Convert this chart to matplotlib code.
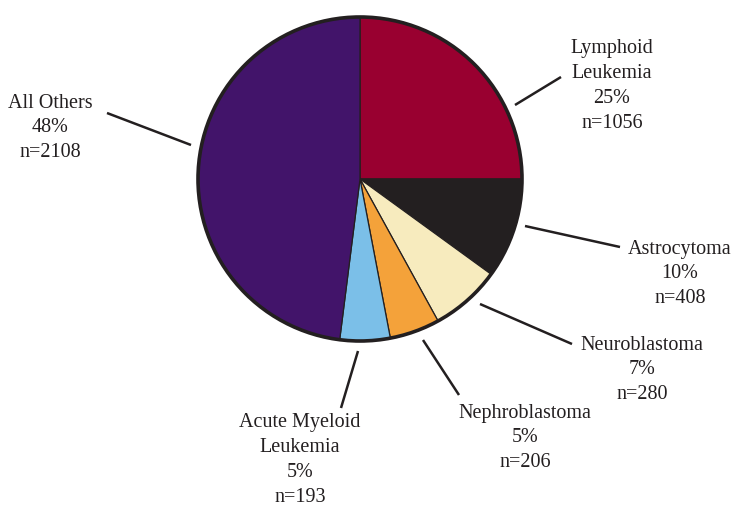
import matplotlib
matplotlib.use("Agg")
import matplotlib.pyplot as plt
from matplotlib.patches import Circle

# Diagnoses, case counts and reported shares
categories = ["Lymphoid\nLeukemia", "Astrocytoma", "Neuroblastoma",
              "Nephroblastoma", "Acute Myeloid\nLeukemia", "All Others"]
counts = [1056, 408, 280, 206, 193, 2108]
percents = [25, 10, 7, 5, 5, 48]
colors = ["#990030", "#231f20", "#f7ebbe", "#f4a23a", "#7bbfe8", "#42146a"]

W, H = 734, 510
fig = plt.figure(figsize=(W / 100, H / 100), dpi=100)
ax = fig.add_axes([0, 0, 1, 1])

def py(y):
    # pixel row (from top) to data y
    return H - y

cx, cy, r = 360, py(180), 162
ink = "#231f20"

ax.pie(percents, colors=colors, startangle=90, counterclock=False,
       center=(cx, cy), radius=r, frame=True,
       wedgeprops=dict(edgecolor=ink, linewidth=0.9))
ax.add_patch(Circle((cx, cy), r, fill=False, edgecolor=ink, linewidth=2.6, zorder=5))
ax.set_xlim(0, W)
ax.set_ylim(0, H)
ax.set_aspect("equal")
ax.axis("off")

# label anchor (center x, center y in pixel rows) and leader line endpoints
label_pos = [(612, 86), (680, 274), (642, 370), (525, 438), (300, 460), (50, 128)]
leaders = [((515, 106), (561, 78)), ((525, 227), (620, 248)),
           ((480, 305), (572, 345)), ((423, 341), (459, 396)),
           ((358, 352), (341, 409)), ((107, 114), (191, 146))]

for name, n, p, (lx, ly), ((x0, y0), (x1, y1)) in zip(
        categories, counts, percents, label_pos, leaders):
    ax.text(lx, py(ly), f"{name}\n{p}%\nn={n}", ha="center", va="center",
            fontsize=14.5, family="Liberation Serif", color=ink, linespacing=1.42)
    ax.plot([x0, x1], [py(y0), py(y1)], color=ink, linewidth=1.8,
            solid_capstyle="butt")

fig.savefig("out.png", dpi=100)
